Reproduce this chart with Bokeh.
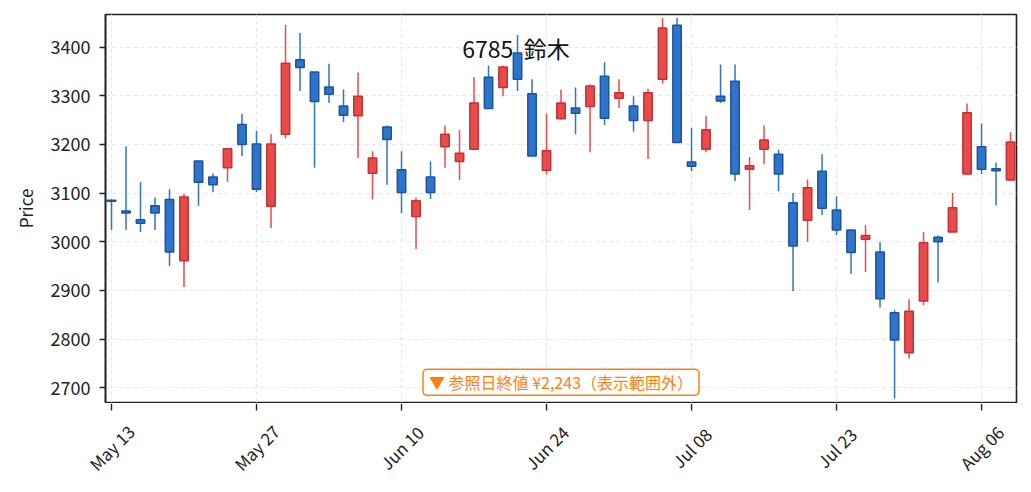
import math
from bokeh.plotting import figure
from bokeh.models import FixedTicker, Label, Range1d, ColumnDataSource
from bokeh.core.properties import value
from bokeh.embed import file_html
from bokeh.resources import INLINE

# ---- data ----
dates = ["2024-05-13", "2024-05-14", "2024-05-15", "2024-05-16", "2024-05-17",
         "2024-05-20", "2024-05-21", "2024-05-22", "2024-05-23", "2024-05-24",
         "2024-05-27", "2024-05-28", "2024-05-29", "2024-05-30", "2024-05-31",
         "2024-06-03", "2024-06-04", "2024-06-05", "2024-06-06", "2024-06-07",
         "2024-06-10", "2024-06-11", "2024-06-12", "2024-06-13", "2024-06-14",
         "2024-06-17", "2024-06-18", "2024-06-19", "2024-06-20", "2024-06-21",
         "2024-06-24", "2024-06-25", "2024-06-26", "2024-06-27", "2024-06-28",
         "2024-07-01", "2024-07-02", "2024-07-03", "2024-07-04", "2024-07-05",
         "2024-07-08", "2024-07-09", "2024-07-10", "2024-07-11", "2024-07-12",
         "2024-07-16", "2024-07-17", "2024-07-18", "2024-07-19", "2024-07-22",
         "2024-07-23", "2024-07-24", "2024-07-25", "2024-07-26", "2024-07-29",
         "2024-07-30", "2024-07-31", "2024-08-01", "2024-08-02", "2024-08-05",
         "2024-08-06", "2024-08-07", "2024-08-08"]

opens = [3085, 3063, 3045, 3074, 3087, 2961, 3166, 3133, 3152, 3241,
         3201, 3073, 3221, 3374, 3349, 3318, 3279, 3259, 3141, 3236,
         3148, 3052, 3133, 3195, 3165, 3190, 3338, 3317, 3388, 3304,
         3147, 3253, 3275, 3278, 3340, 3295, 3279, 3249, 3334, 3445,
         3164, 3190, 3299, 3330, 3149, 3190, 3180, 3080, 3044, 3145,
         3065, 3024, 3005, 2979, 2854, 2772, 2878, 3009, 3020, 3139,
         3195, 3150, 3127]

highs = [3087, 3196, 3122, 3091, 3108, 3098, 3166, 3140, 3191, 3263,
         3228, 3221, 3446, 3429, 3349, 3366, 3313, 3348, 3186, 3239,
         3186, 3091, 3165, 3239, 3229, 3338, 3362, 3362, 3425, 3334,
         3263, 3313, 3317, 3323, 3369, 3334, 3299, 3314, 3460, 3460,
         3234, 3259, 3364, 3364, 3174, 3239, 3189, 3100, 3128, 3180,
         3093, 3024, 3034, 2999, 2859, 2882, 3020, 3013, 3100, 3284,
         3243, 3163, 3225]

lows = [3024, 3024, 3020, 3024, 2950, 2907, 3074, 3102, 3123, 3176,
        3102, 3028, 3212, 3310, 3152, 3285, 3246, 3172, 3087, 3117,
        3059, 2985, 3088, 3152, 3127, 3190, 3274, 3299, 3310, 3176,
        3138, 3251, 3221, 3184, 3240, 3275, 3226, 3170, 3325, 3204,
        3145, 3184, 3285, 3125, 3065, 3159, 3104, 2899, 3000, 3055,
        3014, 2934, 2938, 2865, 2678, 2760, 2870, 2916, 3020, 3139,
        3139, 3075, 3125]

closes = [3083, 3059, 3038, 3059, 2979, 3092, 3122, 3117, 3191, 3200,
          3108, 3201, 3367, 3358, 3288, 3303, 3260, 3299, 3172, 3210,
          3101, 3084, 3101, 3221, 3182, 3285, 3274, 3359, 3334, 3176,
          3187, 3285, 3264, 3320, 3254, 3306, 3249, 3306, 3439, 3204,
          3155, 3230, 3289, 3139, 3156, 3209, 3139, 2991, 3111, 3069,
          3024, 2978, 3013, 2883, 2798, 2857, 2998, 3000, 3070, 3265,
          3149, 3146, 3205]

tick_idx = [0, 10, 20, 30, 40, 50, 60]
tick_labels = ["May 13", "May 27", "Jun 10", "Jun 24", "Jul 08", "Jul 23", "Aug 06"]
y_ticks = [2700, 2800, 2900, 3000, 3100, 3200, 3300, 3400]

title_text = "6785  鈴木"
note_text = "▼ 参照日終値 ¥2,243（表示範囲外）"

# ---- styling / geometry ----
FONT = "Noto Sans CJK JP"
UP_FILL, UP_EDGE = "#e84b4b", "#c93030"
DN_FILL, DN_EDGE = "#2e74c8", "#1c52a3"
NOTE_COLOR = "#ff7f0e"
INK = "#222222"

W = 1023                      # page width used by both rows
BL, BR, BT, BB = 105, 7, 14, 1
FRAME_H = 388
H1 = BT + FRAME_H + BB        # main chart row
H2 = 81                       # date-label row below it
X0, X1 = -0.414, 62.41
Y0, Y1 = 2669.6, 3467.0
FRAME_W = W - BL - BR
PPU = FRAME_W / (X1 - X0)     # pixels per candle slot

idx = list(range(len(dates)))
up = [c >= o for o, c in zip(opens, closes)]
src = ColumnDataSource(dict(
    x=idx,
    high=highs,
    low=lows,
    top=[max(o, c) for o, c in zip(opens, closes)],
    bottom=[min(o, c) for o, c in zip(opens, closes)],
    fill=[UP_FILL if u else DN_FILL for u in up],
    edge=[UP_EDGE if u else DN_EDGE for u in up],
))

p = figure(width=W, height=H1, output_backend="svg", toolbar_location=None,
           x_range=Range1d(X0, X1), y_range=Range1d(Y0, Y1),
           min_border_left=BL, min_border_right=BR,
           min_border_top=BT, min_border_bottom=BB)
p.background_fill_color = "white"
p.border_fill_color = "white"
p.outline_line_color = INK
p.outline_line_width = 1.6

p.segment(x0="x", y0="low", x1="x", y1="high", source=src,
          line_color="fill", line_width=1.5)
p.vbar(x="x", width=0.58, top="top", bottom="bottom", source=src,
       fill_color="fill", line_color="edge", line_width=1.5)

# axes
p.xaxis.visible = False
p.xgrid[0].ticker = FixedTicker(ticks=tick_idx)
p.yaxis.ticker = FixedTicker(ticks=y_ticks)
p.ygrid[0].ticker = FixedTicker(ticks=y_ticks)
p.yaxis.axis_label = "Price"
ax = p.yaxis[0]
ax.axis_line_color = INK
ax.axis_line_width = 1.6
ax.major_tick_line_color = INK
ax.major_tick_line_width = 1.4
ax.major_tick_out = 6
ax.major_tick_in = 0
ax.minor_tick_line_color = None
ax.major_label_text_font = FONT
ax.major_label_text_color = INK
ax.major_label_text_font_size = "18px"
ax.major_label_standoff = 9
ax.axis_label_text_font = FONT
ax.axis_label_text_font_style = "normal"
ax.axis_label_text_color = INK
ax.axis_label_text_font_size = "17px"
ax.axis_label_standoff = 10

for g in (p.xgrid[0], p.ygrid[0]):
    g.grid_line_color = "#e6e6e6"
    g.grid_line_dash = "4 3"
    g.grid_line_width = 1.2

# title inside plot, centred on the page
title_x = X0 + (1031 / 2 - BL) / PPU
p.add_layout(Label(x=title_x, y=3399, text=title_text.replace("  ", " \u00a0"),
                   text_align="center", text_baseline="alphabetic",
                   text_font=FONT, text_font_size="23px", text_color="#111111"))

# out-of-range reference note
p.add_layout(Label(x=(X0 + X1) / 2, y=2711, text=note_text, text_align="center",
                   text_baseline="middle", text_font=FONT,
                   text_font_size="16px", text_color=NOTE_COLOR,
                   background_fill_color="white",
                   border_line_color=NOTE_COLOR, border_line_width=1.5,
                   padding=dict(left=6, right=6, top=1, bottom=1),
                   border_radius=4))

# ---- date axis row: same x scale, ticks + rotated labels centred on ticks ----
p2 = figure(width=W, height=H2, output_backend="svg", toolbar_location=None,
            x_range=Range1d(X0 - BL / PPU, X1 + BR / PPU),
            y_range=Range1d(0, H2),
            x_axis_location=None, y_axis_location=None,
            min_border_left=0, min_border_right=0,
            min_border_top=0, min_border_bottom=0)
p2.outline_line_color = None
p2.grid.visible = False
p2.background_fill_color = "white"
p2.border_fill_color = "white"

tsrc = ColumnDataSource(dict(x=tick_idx, label=tick_labels,
                             y_top=[H2] * len(tick_idx),
                             y_tick=[H2 - 7] * len(tick_idx),
                             y_text=[H2 - 44] * len(tick_idx)))
p2.segment(x0="x", y0="y_top", x1="x", y1="y_tick", source=tsrc,
           line_color=INK, line_width=1.4)
p2.text(x="x", y="y_text", text="label", source=tsrc, angle=math.pi / 4,
        text_align="center", text_baseline="middle",
        text_font=value(FONT), text_font_size="17px", text_color=INK)

# two independent roots stacked on the page (no frame alignment between them)
open("out.html", "w").write(file_html([p, p2], INLINE))
